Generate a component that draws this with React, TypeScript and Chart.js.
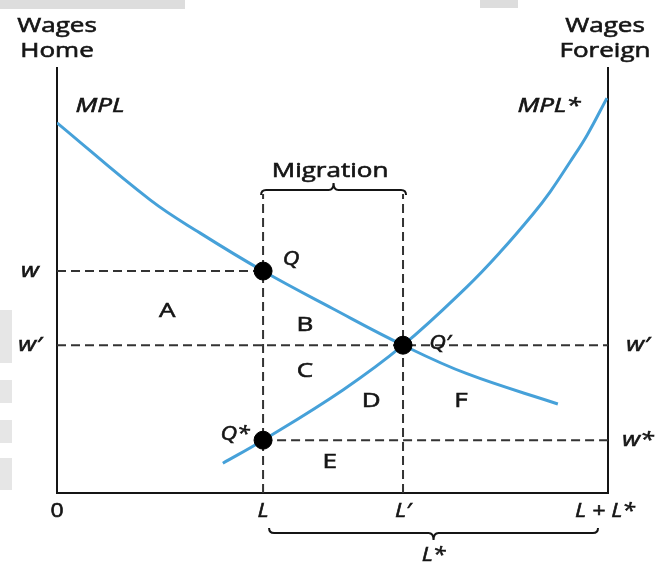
import React, { useEffect, useRef } from "react";
import { Chart, registerables } from "chart.js";

Chart.register(...registerables);

// ---- Data (abstract units: labour 0..10 on x, wage 0..10 on y) ----
const LABOR_L = 3.74;       // home labour before migration
const LABOR_L_PRIME = 6.28; // home labour after migration
const LABOR_TOTAL = 10;     // L + L*
const WAGE_W = 5.21;        // w
const WAGE_W_PRIME = 3.47;  // w'
const WAGE_W_STAR = 1.24;   // w*
const MIGRATION_TOP = 7.02; // top of migration dashed lines

const mplX = [0, 1.69, 2.6, 3.74, 5.0, 6.28, 7.44, 9.09];
const mplY = [8.69, 6.88, 6.1, 5.21, 4.33, 3.47, 2.8, 2.09];
const mplStarX = [3.01, 3.74, 5.19, 6.28, 7.44, 8.04, 8.64, 8.95, 9.31, 9.62, 9.98];
const mplStarY = [0.7, 1.24, 2.42, 3.47, 4.84, 5.65, 6.55, 7.07, 7.77, 8.4, 9.27];

const xTickValues = [0, LABOR_L, LABOR_L_PRIME, LABOR_TOTAL];
const xTickLabels = ["0", "L", "L\u2032", "L + L*"];
const leftWageValues = [WAGE_W, WAGE_W_PRIME];
const leftWageLabels = ["w", "w\u2032"];
const rightWageValues = [WAGE_W_PRIME, WAGE_W_STAR];
const rightWageLabels = ["w\u2032", "w*"];

const pointNames = ["Q", "Q\u2032", "Q*"];
const pointX = [LABOR_L, LABOR_L_PRIME, LABOR_L];
const pointY = [WAGE_W, WAGE_W_PRIME, WAGE_W_STAR];

const regionNames = ["A", "B", "C", "D", "E", "F"];
const regionX = [2.0, 4.5, 4.5, 5.7, 4.95, 7.33];
const regionY = [4.27, 3.94, 2.86, 2.16, 0.73, 2.16];

// ---- Styles ----
const BLUE = "#46a1d9";
const INK = "#151515";
const DASH = "#333333";
const FONT = "'Open Sans', 'DejaVu Sans', sans-serif";
const STRETCH = 1.3;

function zip(xs: number[], ys: number[]) {
  return xs.map((x, i) => ({ x, y: ys[i] }));
}

function text(
  ctx: CanvasRenderingContext2D,
  s: string,
  x: number,
  y: number,
  opts: { size?: number; italic?: boolean; align?: CanvasTextAlign; base?: CanvasTextBaseline; sx?: number } = {}
) {
  const { size = 20, italic = false, align = "center", base = "alphabetic", sx = STRETCH } = opts;
  ctx.save();
  ctx.translate(x, y);
  ctx.scale(sx, 1);
  ctx.font = `${italic ? "italic " : ""}${size}px ${FONT}`;
  ctx.textAlign = align;
  ctx.textBaseline = base;
  ctx.fillStyle = INK;
  ctx.strokeStyle = INK;
  ctx.lineWidth = 0.6;
  ctx.fillText(s, 0, 0);
  ctx.strokeText(s, 0, 0);
  ctx.restore();
}

function brace(ctx: CanvasRenderingContext2D, x1: number, x2: number, y: number, dir: number) {
  // dir = -1 : tip points up, hooks down ; dir = 1 : tip points down, hooks up
  const h = 5;
  const r = 5;
  const xm = (x1 + x2) / 2;
  ctx.save();
  ctx.strokeStyle = INK;
  ctx.lineWidth = 2;
  ctx.beginPath();
  ctx.moveTo(x1, y - dir * h);
  ctx.quadraticCurveTo(x1, y, x1 + r, y);
  ctx.lineTo(xm - r, y);
  ctx.quadraticCurveTo(xm, y, xm, y + dir * h * 1.4);
  ctx.quadraticCurveTo(xm, y, xm + r, y);
  ctx.lineTo(x2 - r, y);
  ctx.quadraticCurveTo(x2, y, x2, y - dir * h);
  ctx.stroke();
  ctx.restore();
}

const decorPlugin = {
  id: "decor",
  beforeDraw(chart: any) {
    const ctx: CanvasRenderingContext2D = chart.ctx;
    ctx.save();
    ctx.fillStyle = "#ffffff";
    ctx.fillRect(0, 0, chart.width, chart.height);
    // faint grey background fragments visible around the figure
    ctx.fillStyle = "#dddddd";
    ctx.fillRect(0, 0, 185, 9);
    ctx.fillRect(480, 0, 38, 8);
    ctx.fillStyle = "#e6e6e6";
    ctx.fillRect(0, 310, 12, 53);
    ctx.fillRect(0, 380, 12, 23);
    ctx.fillRect(0, 420, 12, 23);
    ctx.fillRect(0, 458, 12, 32);
    ctx.restore();
  },
  beforeDatasetsDraw(chart: any) {
    const ctx: CanvasRenderingContext2D = chart.ctx;
    const { left, right, top, bottom } = chart.chartArea;
    ctx.save();
    ctx.strokeStyle = INK;
    ctx.lineWidth = 2;
    ctx.beginPath();
    ctx.moveTo(left, top);
    ctx.lineTo(left, bottom);
    ctx.lineTo(right, bottom);
    ctx.lineTo(right, top);
    ctx.stroke();
    ctx.restore();
  },
  afterDatasetsDraw(chart: any) {
    const ctx: CanvasRenderingContext2D = chart.ctx;
    const xs = chart.scales.x;
    const ys = chart.scales.y;
    const { left, right, top, bottom } = chart.chartArea;

    // axis titles
    text(ctx, "Wages", left, 32);
    text(ctx, "Home", left, 57);
    text(ctx, "Wages", right - 3, 32);
    text(ctx, "Foreign", right - 3, 57);

    // curve labels
    text(ctx, "MPL", left + 43, top + 45, { italic: true });
    text(ctx, "MPL*", right - 59, top + 45, { italic: true });

    // x tick labels
    xTickValues.forEach((v, i) => {
      const px = xs.getPixelForValue(v);
      const dx = i === xTickValues.length - 1 ? -3 : 0;
      text(ctx, xTickLabels[i], px + dx, bottom + 24, { italic: i > 0, sx: 1.15 });
    });

    // wage labels
    leftWageValues.forEach((v, i) => {
      text(ctx, leftWageLabels[i], left - 27, ys.getPixelForValue(v), { italic: true, base: "middle", sx: 1.25 });
    });
    rightWageValues.forEach((v, i) => {
      text(ctx, rightWageLabels[i], right + 30, ys.getPixelForValue(v), { italic: true, base: "middle", sx: 1.25 });
    });

    // point labels
    const offs = [
      [28, -12],
      [37, -2],
      [-28, -6],
    ];
    pointNames.forEach((n, i) => {
      const px = xs.getPixelForValue(pointX[i]);
      const py = ys.getPixelForValue(pointY[i]);
      text(ctx, n, px + offs[i][0], py + offs[i][1], { italic: true, base: "middle", sx: 1.15 });
    });

    // region labels
    regionNames.forEach((n, i) => {
      text(ctx, n, xs.getPixelForValue(regionX[i]), ys.getPixelForValue(regionY[i]), { base: "middle", sx: 1.3 });
    });

    // migration brace + label
    const yMig = ys.getPixelForValue(MIGRATION_TOP) - 4;
    const xL = xs.getPixelForValue(LABOR_L);
    const xLp = xs.getPixelForValue(LABOR_L_PRIME);
    brace(ctx, xL - 2, xLp + 3, yMig, -1);
    text(ctx, "Migration", (xL + xLp) / 2 - 3, yMig - 13);

    // L* brace + label
    const xEnd = xs.getPixelForValue(LABOR_TOTAL);
    brace(ctx, xL + 6, xEnd - 10, bottom + 40, 1);
    text(ctx, "L*", (xL + 6 + xEnd - 10) / 2, bottom + 68, { italic: true, sx: 1.15 });
  },
};

export default function App() {
  const ref = useRef<HTMLCanvasElement | null>(null);

  useEffect(() => {
    if (!ref.current) return;
    const dashed = (data: { x: number; y: number }[]) => ({
      data,
      showLine: true,
      borderColor: DASH,
      borderWidth: 2,
      borderDash: [9, 5],
      pointRadius: 0,
      fill: false,
      order: 3,
    });
    const chart = new Chart(ref.current, {
      type: "scatter",
      data: {
        datasets: [
          {
            label: "Equilibria",
            data: zip(pointX, pointY),
            pointRadius: 9,
            pointBackgroundColor: "#000",
            pointBorderColor: "#000",
            showLine: false,
            order: 0,
          },
          {
            label: "MPL",
            data: zip(mplX, mplY),
            showLine: true,
            borderColor: BLUE,
            borderWidth: 3,
            pointRadius: 0,
            tension: 0.4,
            order: 1,
          },
          {
            label: "MPL*",
            data: zip(mplStarX, mplStarY),
            showLine: true,
            borderColor: BLUE,
            borderWidth: 3,
            pointRadius: 0,
            tension: 0.4,
            order: 1,
          },
          dashed([{ x: 0, y: WAGE_W }, { x: LABOR_L, y: WAGE_W }]),
          dashed([{ x: 0, y: WAGE_W_PRIME }, { x: LABOR_TOTAL, y: WAGE_W_PRIME }]),
          dashed([{ x: LABOR_L, y: WAGE_W_STAR }, { x: LABOR_TOTAL, y: WAGE_W_STAR }]),
          dashed([{ x: LABOR_L, y: 0 }, { x: LABOR_L, y: MIGRATION_TOP }]),
          dashed([{ x: LABOR_L_PRIME, y: 0 }, { x: LABOR_L_PRIME, y: MIGRATION_TOP }]),
        ] as any,
      },
      options: {
        animation: false,
        responsive: false,
        devicePixelRatio: 1,
        layout: { padding: { left: 57, right: 59, top: 67, bottom: 72 } },
        scales: {
          x: { type: "linear", min: 0, max: 10, display: false },
          y: { type: "linear", min: 0, max: 10, display: false },
        },
        plugins: {
          legend: { display: false },
          tooltip: { enabled: false },
        },
      } as any,
      plugins: [decorPlugin],
    });
    return () => chart.destroy();
  }, []);

  return (
    <div style={{ position: "absolute", left: 0, top: 0, width: 667, height: 565, background: "#fff" }}>
      <canvas ref={ref} width={667} height={565} style={{ width: 667, height: 565, display: "block" }} />
    </div>
  );
}
